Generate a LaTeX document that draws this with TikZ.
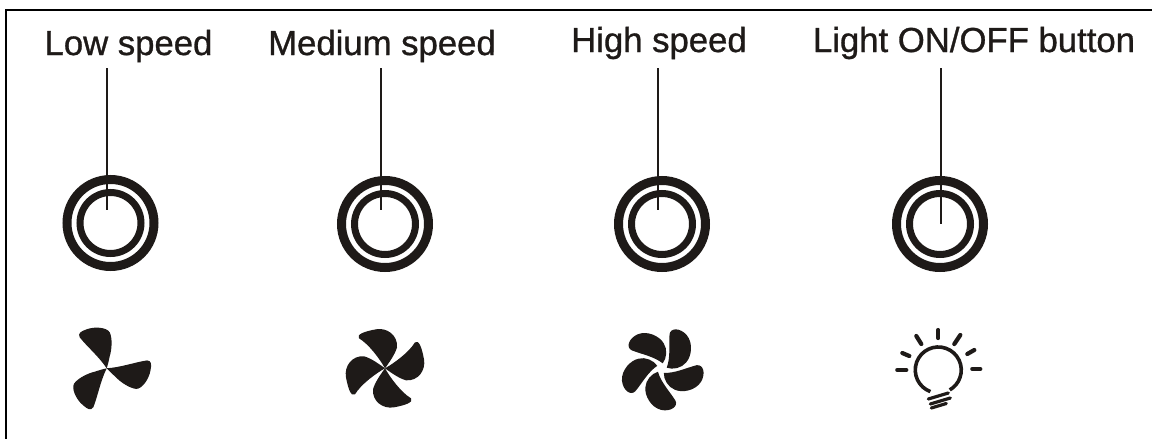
\documentclass[tikz,border=0pt]{standalone}
\usepackage{fontspec}
\setmainfont{Liberation Sans}
\newfontfamily\labfont[FakeBold=0.9]{Liberation Sans}
\definecolor{ink}{HTML}{1E1A18}
\tikzset{
  x=1pt,y=-1pt,
  lab/.style={font=\labfont\fontsize{34.7}{38}\selectfont,text=ink,inner sep=0pt,anchor=base},
  ring/.style={draw=ink,line width=#1},
  lead/.style={draw=ink,line width=2pt},
  blade/.style={fill=ink,draw=none},
  ray/.style={draw=ink,line width=4.2pt,line cap=round},
  outline/.style={draw=black,line width=2.4pt},
}
\newcommand{\bladeA}[1]{\fill[blade,rotate=#1] (0,0) .. controls (-8,-12) and (-20,-22) .. (-27,-31) .. controls (-29,-35) and (-26,-37) .. (-20,-39) .. controls (-12,-42) and (0,-41) .. (3,-36) .. controls (6,-30) and (5,-18) .. (3,-12) .. controls (2,-7) and (1,-3) .. (0,0) -- cycle;}
\newcommand{\bladeB}[1]{\fill[blade,rotate=#1] (0,0) .. controls (-5,-9) and (-16,-24) .. (-26,-30) .. controls (-29,-34) and (-20,-37) .. (-9,-39) .. controls (2,-41) and (13,-33) .. (12,-21) .. controls (10,-14) and (5,-7) .. (0,0) -- cycle;}
\newcommand{\bladeC}[1]{\fill[blade,rotate=#1] (1,-5) .. controls (-8,-12) and (-20,-14) .. (-30,-18) .. controls (-36,-21) and (-33,-30) .. (-24,-34) .. controls (-14,-38) and (-2,-32) .. (2,-25) .. controls (6,-19) and (5,-10) .. (1,-5) -- cycle;}
\begin{document}
\begin{tikzpicture}
\useasboundingbox (0,0) rectangle (1152,439);
\fill[white] (0,0) rectangle (1152,439);
\coordinate (fa) at (6,439);
\coordinate (fb) at (6,10);
\coordinate (fc) at (1152,10);
\draw[outline] (fa) -- (fb) -- (fc);
\node[lab] (t1) at (128.5,55) {Low speed};
\node[lab] (t2) at (382,55) {Medium speed};
\node[lab] (t3) at (659,52) {High speed};
\node[lab] (t4) at (974,52) {Light ON/OFF button};
\foreach \n/\cx/\cy in {1/110.5/223,2/385/224,3/662/224,4/940/224}{
  \coordinate (c\n) at (\cx,\cy);
  \draw[ring=9pt] (c\n) circle (43.5);
  \draw[ring=7pt] (c\n) circle (30.5);
}
\coordinate (e1) at (106.5,210);
\coordinate (e2) at (380.5,210);
\coordinate (e3) at (657.5,210);
\coordinate (e4) at (940.5,224);
\coordinate (s1) at (106.5,68);
\coordinate (s2) at (380.5,68);
\coordinate (s3) at (657.5,68);
\coordinate (s4) at (940.5,68);
\draw[lead] (s1) -- (e1);
\draw[lead] (s2) -- (e2);
\draw[lead] (s3) -- (e3);
\draw[lead] (s4) -- (e4);
% fan 1
\begin{scope}[shift={(106.7,368.3)}]
\bladeA{0}\bladeA{120}\bladeA{240}
\end{scope}
% fan 2
\begin{scope}[shift={(385,368.3)}]
\bladeB{0}\bladeB{90}\bladeB{180}\bladeB{270}
\end{scope}
% fan 3
\begin{scope}[shift={(661.7,368.3)}]
\foreach \a in {0,72,144,216,288}{\bladeC{\a}}
\end{scope}
% bulb
\begin{scope}[shift={(938.3,370)}]
\draw[draw=ink,line width=3.6pt] (-7.9,21.6) arc[start angle=110,end angle=420,radius=23];
\draw[draw=ink,line width=3.2pt,line cap=round] (-10,29) -- (10,23);
\draw[draw=ink,line width=3.2pt,line cap=round] (-8,34) -- (12,28);
\draw[draw=ink,line width=3.2pt,line cap=round] (-7,38) -- (8,33.5);
\draw[ray] (0,-40) -- (0,-32);
\draw[ray] (-22,-34) -- (-17,-26);
\draw[ray] (22,-35) -- (16,-26);
\draw[ray] (-36,-17) -- (-29,-14);
\draw[ray] (36,-20) -- (29,-16);
\draw[ray] (-41,0) -- (-32,0);
\draw[ray] (34,-1) -- (42,-1);
\end{scope}
\end{tikzpicture}
\end{document}
